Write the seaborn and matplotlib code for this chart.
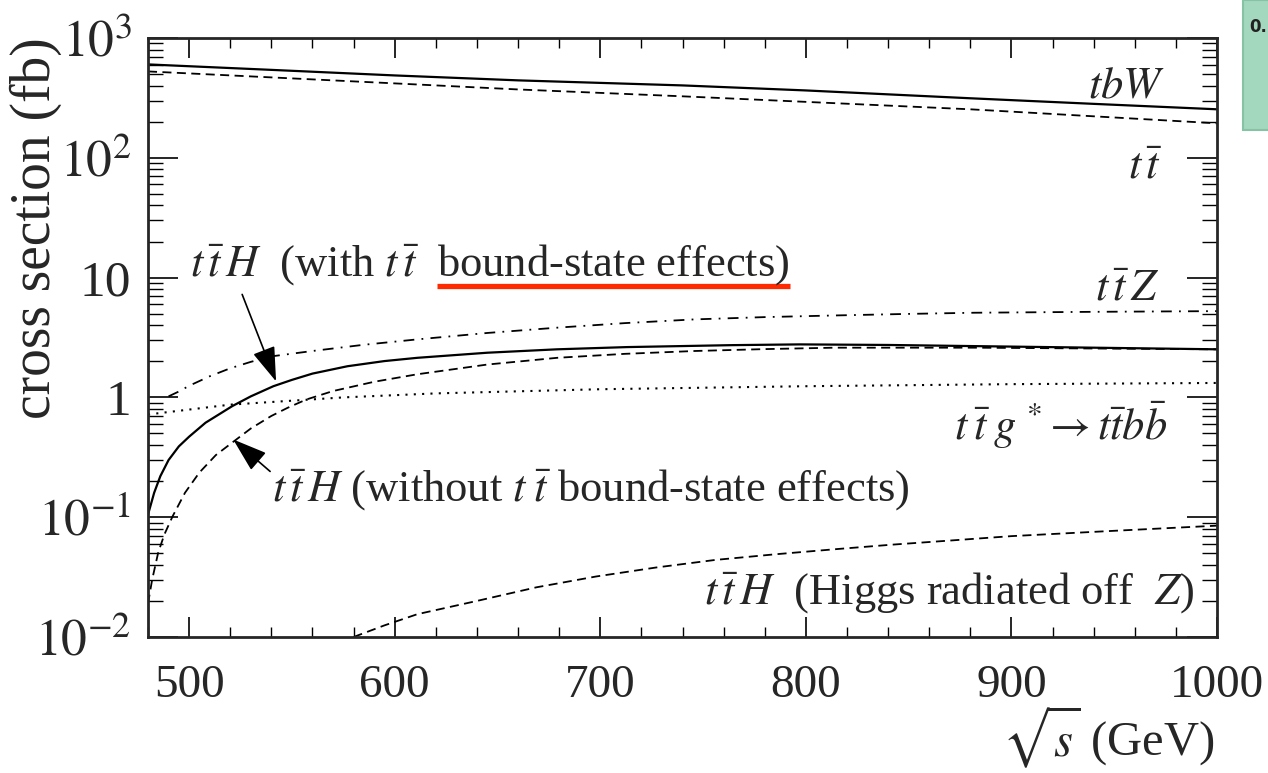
import numpy as np
import pandas as pd
import matplotlib
matplotlib.use("Agg")
import matplotlib.pyplot as plt
import matplotlib.ticker as mticker
from matplotlib.patches import Rectangle
import seaborn as sns

# ---------------- data ----------------
x_tbW = [480, 540, 600, 660, 740, 800, 880, 940, 1000]
y_tbW = [602, 542, 487, 443, 402, 365, 314, 282, 254]

x_tt = [480, 540, 600, 660, 740, 800, 880, 940, 1000]
y_tt = [526, 469, 418, 372, 326, 293, 254, 222, 194]

x_ttZ = [490, 495, 500, 510, 520, 530, 540, 560, 585, 611, 645, 679, 712, 746, 780, 814, 848, 882, 940, 1000]
y_ttZ = [1.02, 1.12, 1.25, 1.5, 1.75, 1.98, 2.2, 2.44, 2.75, 3.05, 3.45, 3.82, 4.17, 4.48, 4.68, 4.83, 4.97, 5.09, 5.18, 5.25]

x_ttH_bs = [480, 483, 486, 490, 495, 500, 508, 515, 521, 530, 541, 550, 560, 577, 595, 611, 645, 679,
            713, 764, 797, 840, 882, 940, 1000]
y_ttH_bs = [0.105, 0.16, 0.22, 0.30, 0.39, 0.47, 0.615, 0.73, 0.846, 1.02, 1.24, 1.40, 1.58, 1.82, 2.01,
            2.14, 2.36, 2.52, 2.63, 2.73, 2.77, 2.74, 2.68, 2.60, 2.52]

x_ttH_nobs = [480, 482, 485, 488, 492, 498, 505, 513, 521, 530, 540, 548, 557, 570, 590, 611, 645, 679,
              712, 746, 780, 814, 882, 940, 1000]
y_ttH_nobs = [0.019, 0.03, 0.051, 0.072, 0.102, 0.16, 0.236, 0.33, 0.42, 0.55, 0.70, 0.82, 0.96, 1.13,
              1.35, 1.56, 1.88, 2.14, 2.31, 2.44, 2.53, 2.60, 2.60, 2.56, 2.52]

x_ttbb = [480, 520, 575, 620, 700, 800, 900, 1000]
y_ttbb = [0.72, 0.87, 1.0, 1.08, 1.17, 1.24, 1.29, 1.32]

x_ttH_Z = [580, 595, 611, 640, 669, 698, 727, 756, 785, 814, 842, 871, 900, 950, 1000]
y_ttH_Z = [0.0100, 0.0125, 0.0155, 0.020, 0.026, 0.032, 0.038, 0.044, 0.049, 0.054, 0.059, 0.064,
           0.0695, 0.077, 0.085]

x_ticks = [500, 600, 700, 800, 900, 1000]
y_ticks = [1e-2, 1e-1, 1, 10, 1e2, 1e3]
y_ticklabels = [r"$10^{-2}$", r"$10^{-1}$", "1", "10", r"$10^{2}$", r"$10^{3}$"]

# ---------------- style ----------------
sns.set_style("ticks")
plt.rcParams["font.family"] = ["Liberation Serif", "DejaVu Serif"]
plt.rcParams["mathtext.fontset"] = "stix"
plt.rcParams["axes.linewidth"] = 2.0

fig = plt.figure(figsize=(12.68, 7.73), dpi=100)
ax = fig.add_axes([148 / 1268, 1 - 637 / 773, (1217 - 148) / 1268, (637 - 38) / 773])
ax.set_yscale("log")

def draw(xs, ys, ls, lw):
    df = pd.DataFrame({"x": xs, "y": ys})
    sns.lineplot(data=df, x="x", y="y", ax=ax, color="black", lw=lw,
                 linestyle=ls, errorbar=None, estimator=None, sort=True)

draw(x_tbW, y_tbW, "-", 1.6)
draw(x_tt, y_tt, (0, (5, 3)), 1.3)
draw(x_ttZ, y_ttZ, (0, (6, 4, 1, 4)), 1.3)
draw(x_ttH_bs, y_ttH_bs, "-", 1.6)
draw(x_ttH_nobs, y_ttH_nobs, (0, (5, 3)), 1.3)
draw(x_ttbb, y_ttbb, (0, (1, 3)), 1.5)
draw(x_ttH_Z, y_ttH_Z, (0, (5, 3)), 1.3)

ax.set_xlim(480, 1000)
ax.set_ylim(1e-2, 1e3)

ax.xaxis.set_major_locator(mticker.FixedLocator(x_ticks))
ax.xaxis.set_minor_locator(mticker.MultipleLocator(20))
ax.yaxis.set_major_locator(mticker.FixedLocator(y_ticks))
ax.yaxis.set_major_formatter(mticker.FixedFormatter(y_ticklabels))
ax.yaxis.set_minor_locator(mticker.LogLocator(base=10, subs=np.arange(2, 10)))
ax.yaxis.set_minor_formatter(mticker.NullFormatter())
ax.set_xticklabels([str(v) for v in x_ticks])

ax.tick_params(which="both", direction="in", top=True, right=True, color="black")
ax.tick_params(axis="x", which="major", length=14.4, width=1.2, labelsize=34, pad=20)
ax.tick_params(axis="x", which="minor", length=7.2, width=1.0)
ax.tick_params(axis="y", which="major", length=21.6, width=1.2, labelsize=37, pad=12)
ax.tick_params(axis="y", which="minor", length=10.8, width=1.0)

ax.set_xlabel(r"$\sqrt{s}$ (GeV)", fontsize=35, ha="right", va="center")
ax.xaxis.set_label_coords(0.998, -0.168)
ax.set_ylabel("cross section (fb)", fontsize=40, va="center")
ax.yaxis.set_label_coords(-0.105, 0.683)

# ---------------- annotations ----------------
fs = 32
ax.text(0.951, 0.9015, r"$tbW$", transform=ax.transAxes, ha="right", va="baseline", fontsize=fs)
ax.text(0.9495, 0.766, r"$t\,\bar{t}$", transform=ax.transAxes, ha="right", va="baseline", fontsize=fs)
ax.text(0.946, 0.5626, r"$t\,\bar{t}\,Z$", transform=ax.transAxes, ha="right", va="baseline", fontsize=fs)
ax.text(0.953, 0.329, r"$t\:\bar{t}\:g^{\,*}\!\rightarrow t\bar{t}b\bar{b}$", transform=ax.transAxes,
        ha="right", va="baseline", fontsize=fs)
ax.text(0.0393, 0.601, r"$t\,\bar{t}\,H$  (with $t\,\bar{t}$  bound-state effects)", transform=ax.transAxes,
        ha="left", va="baseline", fontsize=fs)
ax.text(0.116, 0.2254, r"$t\,\bar{t}\,H$ (without $t\;\bar{t}$ bound-state effects)", transform=ax.transAxes,
        ha="left", va="baseline", fontsize=fs)
ax.text(0.979, 0.0534, r"$t\,\bar{t}\,H$  (Higgs radiated off  $Z$)", transform=ax.transAxes,
        ha="right", va="baseline", fontsize=fs)

# red underline
ax.plot([0.2703, 0.6006], [0.586, 0.586], transform=ax.transAxes, color="#FF2A00", lw=3.8,
        solid_capstyle="butt", clip_on=False)

# arrows
astyle = "-|>,head_length=0.9,head_width=0.3"
ax.annotate("", xy=(542.3, 1.36), xytext=(525.8, 7.24),
            arrowprops=dict(arrowstyle=astyle, mutation_scale=24, lw=1.2, color="black",
                            shrinkA=0, shrinkB=0))
ax.annotate("", xy=(521.4, 0.446), xytext=(539.4, 0.241),
            arrowprops=dict(arrowstyle=astyle, mutation_scale=24, lw=1.2, color="black",
                            shrinkA=0, shrinkB=0))

# cropped green box at the top right
fig.patches.append(Rectangle((1243 / 1268, 1 - 130 / 773), 30 / 1268, 130 / 773,
                             transform=fig.transFigure, facecolor="#A3D7BE",
                             edgecolor="#86C2A4", lw=1.5, zorder=5))
fig.text(1249 / 1268, 1 - 27 / 773, "0.", fontsize=12, fontweight="bold",
         family="DejaVu Sans", color="#222222", va="center", ha="left", zorder=6)

fig.savefig("out.png", dpi=100)
